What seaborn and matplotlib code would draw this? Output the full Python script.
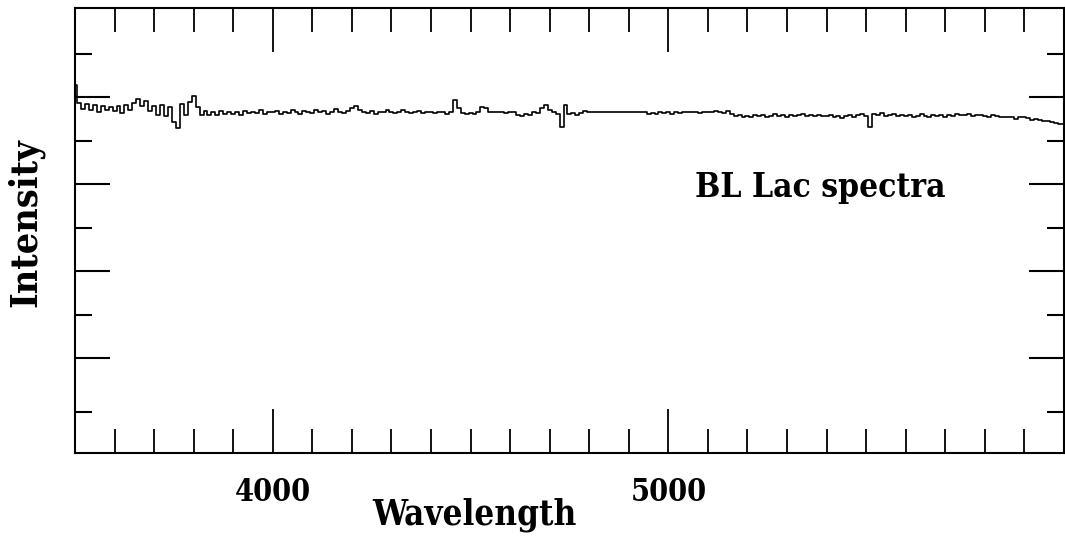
import numpy as np
import pandas as pd
import seaborn as sns
import matplotlib.pyplot as plt
from matplotlib.ticker import FixedLocator, MultipleLocator, NullFormatter

# wavelength grid (Angstrom), one reading every 10 A
wavelength = np.arange(3500, 6001, 10)

# intensity, 100 A per row
intensity = [
    8.28, 7.86, 7.72, 7.84, 7.70, 7.82, 7.66, 7.80, 7.70, 7.78,
    7.68, 7.80, 7.64, 7.82, 7.70, 7.86, 7.95, 7.80, 7.92, 7.68,
    7.80, 7.58, 7.82, 7.56, 7.78, 7.44, 7.29, 7.84, 7.60, 7.90,
    8.03, 7.78, 7.59, 7.68, 7.58, 7.66, 7.60, 7.68, 7.62, 7.66,
    7.62, 7.66, 7.60, 7.68, 7.64, 7.66, 7.64, 7.70, 7.62, 7.66,
    7.66, 7.68, 7.62, 7.66, 7.64, 7.70, 7.66, 7.62, 7.68, 7.66,
    7.64, 7.70, 7.66, 7.68, 7.62, 7.66, 7.72, 7.66, 7.64, 7.68,
    7.76, 7.80, 7.70, 7.66, 7.64, 7.68, 7.62, 7.66, 7.66, 7.70,
    7.66, 7.64, 7.66, 7.70, 7.66, 7.64, 7.66, 7.68, 7.64, 7.66,
    7.66, 7.64, 7.66, 7.66, 7.62, 7.66, 7.93, 7.76, 7.64, 7.62,
    7.64, 7.62, 7.66, 7.77, 7.76, 7.66, 7.66, 7.66, 7.66, 7.64,
    7.66, 7.66, 7.60, 7.56, 7.62, 7.58, 7.66, 7.64, 7.74, 7.82,
    7.70, 7.66, 7.62, 7.31, 7.82, 7.62, 7.64, 7.60, 7.64, 7.68,
    7.66, 7.66, 7.66, 7.66, 7.66, 7.66, 7.66, 7.66, 7.66, 7.66,
    7.66, 7.66, 7.66, 7.66, 7.66, 7.62, 7.64, 7.62, 7.66, 7.64,
    7.66, 7.62, 7.66, 7.64, 7.66, 7.66, 7.66, 7.66, 7.64, 7.66,
    7.66, 7.66, 7.68, 7.66, 7.64, 7.68, 7.62, 7.56, 7.58, 7.54,
    7.56, 7.54, 7.58, 7.56, 7.60, 7.54, 7.56, 7.62, 7.56, 7.58,
    7.54, 7.60, 7.56, 7.58, 7.62, 7.56, 7.58, 7.56, 7.60, 7.56,
    7.56, 7.58, 7.54, 7.56, 7.52, 7.56, 7.60, 7.54, 7.58, 7.62,
    7.56, 7.31, 7.62, 7.58, 7.64, 7.56, 7.60, 7.62, 7.56, 7.58,
    7.56, 7.60, 7.54, 7.56, 7.62, 7.56, 7.54, 7.60, 7.56, 7.58,
    7.54, 7.60, 7.56, 7.62, 7.60, 7.58, 7.62, 7.56, 7.60, 7.58,
    7.56, 7.54, 7.58, 7.56, 7.54, 7.54, 7.54, 7.54, 7.50, 7.54,
    7.54, 7.52, 7.48, 7.50, 7.48, 7.46, 7.46, 7.44, 7.40, 7.38,
    7.38,
]

x_major = [4000, 5000]
x_tick_labels = ['4000', '5000']
y_major = [2, 4, 6, 8]
y_minor = [0.77, 3, 5, 7, 9]

label_text = 'BL Lac spectra'

df = pd.DataFrame({'Wavelength': wavelength, 'Intensity': intensity})

sns.set_theme(style='white')
plt.rcParams['font.family'] = ['DejaVu Serif']
plt.rcParams['text.color'] = 'black'
font = dict(family='DejaVu Serif', weight='bold', stretch='condensed', color='black')

fig = plt.figure(figsize=(10.65, 5.39), dpi=100)
ax = fig.add_axes([0.0704, 0.1596, 0.9286, 0.8256])

sns.lineplot(data=df, x='Wavelength', y='Intensity', ax=ax, color='black',
             linewidth=1.2, drawstyle='steps-mid')

ax.set_xlim(3500, 6000)
ax.set_ylim(-0.18, 10.05)

for sp in ax.spines.values():
    sp.set_color('black')
    sp.set_linewidth(1.5)

ax.xaxis.set_major_locator(FixedLocator(x_major))
ax.xaxis.set_minor_locator(MultipleLocator(100))
ax.set_xticklabels(x_tick_labels, fontdict=dict(font, size=22))
ax.yaxis.set_major_locator(FixedLocator(y_major))
ax.yaxis.set_minor_locator(FixedLocator(y_minor))
ax.yaxis.set_major_formatter(NullFormatter())

ax.tick_params(axis='x', which='both', direction='in', top=True, bottom=True,
               color='black', width=1.3, labelcolor='black')
ax.tick_params(axis='x', which='major', length=32, pad=17)
ax.tick_params(axis='x', which='minor', length=17)
ax.tick_params(axis='y', which='both', direction='in', left=True, right=True,
               color='black', width=1.5)
ax.tick_params(axis='y', which='major', length=25, labelleft=False)
ax.tick_params(axis='y', which='minor', length=12.5)

ax.set_xlabel('Wavelength', fontdict=dict(font, size=25))
ax.xaxis.set_label_coords(0.404, -0.10)
ax.set_ylabel('Intensity', fontdict=dict(font, size=27))
ax.yaxis.set_label_coords(-0.031, 0.517)

ax.text(0.754, 0.575, label_text, transform=ax.transAxes, ha='center',
        va='baseline', fontdict=dict(font, size=24))

fig.savefig('out.png', dpi=100, facecolor='white')
